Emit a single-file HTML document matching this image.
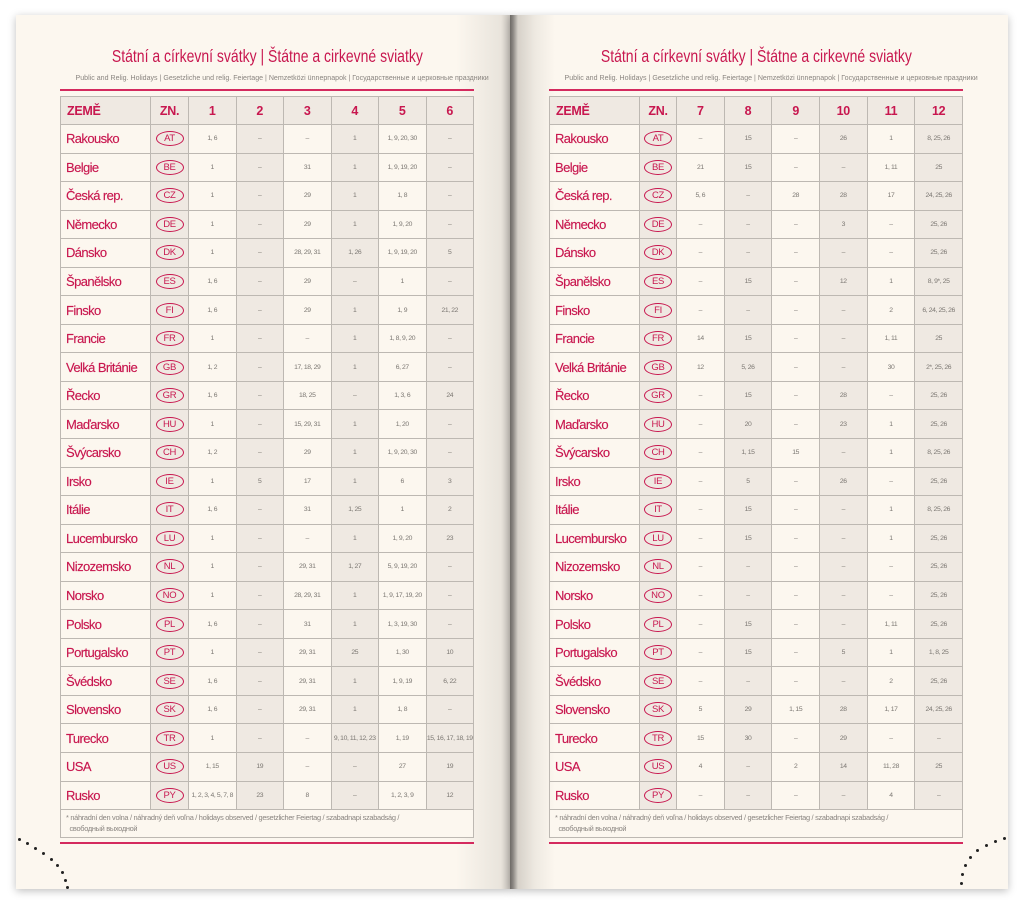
<!DOCTYPE html>
<html><head><meta charset="utf-8">
<style>
*{margin:0;padding:0;box-sizing:border-box}
body{width:1024px;height:905px;background:#fff;position:relative;overflow:hidden;font-family:"Liberation Sans",sans-serif}
.page{position:absolute;top:15px;height:874px;background:#fcf7ef;box-shadow:0 2px 8px rgba(0,0,0,.25)}
#pl{left:16px;width:494px;background:linear-gradient(to right,#fcf7ef 0,#fcf7ef 440px,#e9e4dc 485px,#c9c4bd 494px)}
#pr{left:510px;width:498px;background:linear-gradient(to right,#6d6a66 0,#8a8782 3px,#d6d1c9 8px,#eee9e1 25px,#fcf7ef 45px)}
.title{position:absolute;width:414px;text-align:center;color:#c8174f;font-size:17.5px;top:46px;white-space:nowrap}
.title span{display:inline-block;transform:scaleX(0.8)}
.sub{position:absolute;width:414px;text-align:center;color:#8a8580;font-size:7.6px;top:73px;white-space:nowrap}
.sub span{display:inline-block;transform:scaleX(0.93)}
.rl{position:absolute;height:2px;background:#d42a5e;width:414px}
table{position:absolute;top:96px;border-collapse:collapse;table-layout:fixed;width:414px}
td{border:1px solid #bdb8b2;text-align:center;vertical-align:middle;color:#7b7772;font-size:6.8px;letter-spacing:-0.4px;height:28.55px;padding:0;white-space:nowrap;overflow:hidden}
tr.h td{height:28px;background:#efe9e2;color:#c8174f;font-size:12.5px;font-weight:bold;letter-spacing:-0.3px}
tr.h td:first-child{text-align:left;padding-left:6px}
td.n{color:#c8174f;font-size:13px;letter-spacing:-0.6px;text-align:left;padding-left:5px;-webkit-text-stroke:0.15px #c8174f}
td.c span{display:inline-block;border:1.3px solid #c8174f;border-radius:50%;color:#c8174f;font-size:9.5px;letter-spacing:-0.3px;width:28px;height:15px;line-height:13px}
td:nth-child(2),td:nth-child(4),td:nth-child(6),td:nth-child(8){background:#efe9e2}
td.f{text-align:left;font-size:7.4px;letter-spacing:-0.3px;color:#8a8580;height:28px;white-space:normal;padding:2px 5px;line-height:11px;background:#fcf7ef!important;vertical-align:top}
.dot{position:absolute;width:3px;height:3px;border-radius:50%;background:#222}
</style></head><body>
<div class="page" id="pl"></div>
<div class="page" id="pr"></div>

<div class="title" style="left:60px"><span>Státní a církevní svátky | Štátne a cirkevné sviatky</span></div>
<div class="sub" style="left:60px"><span>Public and Relig. Holidays | Gesetzliche und relig. Feiertage | Nemzetközi ünnepnapok | Государственные и церковные праздники</span></div>
<div class="rl" style="left:60px;top:89px"></div>
<div class="rl" style="left:60px;top:842px"></div>

<div class="title" style="left:549px"><span>Státní a církevní svátky | Štátne a cirkevné sviatky</span></div>
<div class="sub" style="left:549px"><span>Public and Relig. Holidays | Gesetzliche und relig. Feiertage | Nemzetközi ünnepnapok | Государственные и церковные праздники</span></div>
<div class="rl" style="left:549px;top:89px"></div>
<div class="rl" style="left:549px;top:842px"></div>

<table style="left:60px">
<colgroup><col style="width:90px"><col style="width:38px"><col><col><col><col><col><col></colgroup>
<tr class="h"><td>ZEMĚ</td><td>ZN.</td><td>1</td><td>2</td><td>3</td><td>4</td><td>5</td><td>6</td></tr>
<tr><td class="n">Rakousko</td><td class="c"><span>AT</span></td><td>1, 6</td><td>–</td><td>–</td><td>1</td><td>1, 9, 20, 30</td><td>–</td></tr>
<tr><td class="n">Belgie</td><td class="c"><span>BE</span></td><td>1</td><td>–</td><td>31</td><td>1</td><td>1, 9, 19, 20</td><td>–</td></tr>
<tr><td class="n">Česká rep.</td><td class="c"><span>CZ</span></td><td>1</td><td>–</td><td>29</td><td>1</td><td>1, 8</td><td>–</td></tr>
<tr><td class="n">Německo</td><td class="c"><span>DE</span></td><td>1</td><td>–</td><td>29</td><td>1</td><td>1, 9, 20</td><td>–</td></tr>
<tr><td class="n">Dánsko</td><td class="c"><span>DK</span></td><td>1</td><td>–</td><td>28, 29, 31</td><td>1, 26</td><td>1, 9, 19, 20</td><td>5</td></tr>
<tr><td class="n">Španělsko</td><td class="c"><span>ES</span></td><td>1, 6</td><td>–</td><td>29</td><td>–</td><td>1</td><td>–</td></tr>
<tr><td class="n">Finsko</td><td class="c"><span>FI</span></td><td>1, 6</td><td>–</td><td>29</td><td>1</td><td>1, 9</td><td>21, 22</td></tr>
<tr><td class="n">Francie</td><td class="c"><span>FR</span></td><td>1</td><td>–</td><td>–</td><td>1</td><td>1, 8, 9, 20</td><td>–</td></tr>
<tr><td class="n">Velká Británie</td><td class="c"><span>GB</span></td><td>1, 2</td><td>–</td><td>17, 18, 29</td><td>1</td><td>6, 27</td><td>–</td></tr>
<tr><td class="n">Řecko</td><td class="c"><span>GR</span></td><td>1, 6</td><td>–</td><td>18, 25</td><td>–</td><td>1, 3, 6</td><td>24</td></tr>
<tr><td class="n">Maďarsko</td><td class="c"><span>HU</span></td><td>1</td><td>–</td><td>15, 29, 31</td><td>1</td><td>1, 20</td><td>–</td></tr>
<tr><td class="n">Švýcarsko</td><td class="c"><span>CH</span></td><td>1, 2</td><td>–</td><td>29</td><td>1</td><td>1, 9, 20, 30</td><td>–</td></tr>
<tr><td class="n">Irsko</td><td class="c"><span>IE</span></td><td>1</td><td>5</td><td>17</td><td>1</td><td>6</td><td>3</td></tr>
<tr><td class="n">Itálie</td><td class="c"><span>IT</span></td><td>1, 6</td><td>–</td><td>31</td><td>1, 25</td><td>1</td><td>2</td></tr>
<tr><td class="n">Lucembursko</td><td class="c"><span>LU</span></td><td>1</td><td>–</td><td>–</td><td>1</td><td>1, 9, 20</td><td>23</td></tr>
<tr><td class="n">Nizozemsko</td><td class="c"><span>NL</span></td><td>1</td><td>–</td><td>29, 31</td><td>1, 27</td><td>5, 9, 19, 20</td><td>–</td></tr>
<tr><td class="n">Norsko</td><td class="c"><span>NO</span></td><td>1</td><td>–</td><td>28, 29, 31</td><td>1</td><td>1, 9, 17, 19, 20</td><td>–</td></tr>
<tr><td class="n">Polsko</td><td class="c"><span>PL</span></td><td>1, 6</td><td>–</td><td>31</td><td>1</td><td>1, 3, 19, 30</td><td>–</td></tr>
<tr><td class="n">Portugalsko</td><td class="c"><span>PT</span></td><td>1</td><td>–</td><td>29, 31</td><td>25</td><td>1, 30</td><td>10</td></tr>
<tr><td class="n">Švédsko</td><td class="c"><span>SE</span></td><td>1, 6</td><td>–</td><td>29, 31</td><td>1</td><td>1, 9, 19</td><td>6, 22</td></tr>
<tr><td class="n">Slovensko</td><td class="c"><span>SK</span></td><td>1, 6</td><td>–</td><td>29, 31</td><td>1</td><td>1, 8</td><td>–</td></tr>
<tr><td class="n">Turecko</td><td class="c"><span>TR</span></td><td>1</td><td>–</td><td>–</td><td>9, 10, 11, 12, 23</td><td>1, 19</td><td>15, 16, 17, 18, 19</td></tr>
<tr><td class="n">USA</td><td class="c"><span>US</span></td><td>1, 15</td><td>19</td><td>–</td><td>–</td><td>27</td><td>19</td></tr>
<tr><td class="n">Rusko</td><td class="c"><span>PY</span></td><td>1, 2, 3, 4, 5, 7, 8</td><td>23</td><td>8</td><td>–</td><td>1, 2, 3, 9</td><td>12</td></tr>
<tr><td class="f" colspan="8">* náhradní den volna / náhradný deň voľna / holidays observed / gesetzlicher Feiertag / szabadnapi szabadság /<br>&nbsp;&nbsp;свободный выходной</td></tr>
</table>

<table style="left:549px">
<colgroup><col style="width:90px"><col style="width:37px"><col><col><col><col><col><col></colgroup>
<tr class="h"><td>ZEMĚ</td><td>ZN.</td><td>7</td><td>8</td><td>9</td><td>10</td><td>11</td><td>12</td></tr>
<tr><td class="n">Rakousko</td><td class="c"><span>AT</span></td><td>–</td><td>15</td><td>–</td><td>26</td><td>1</td><td>8, 25, 26</td></tr>
<tr><td class="n">Belgie</td><td class="c"><span>BE</span></td><td>21</td><td>15</td><td>–</td><td>–</td><td>1, 11</td><td>25</td></tr>
<tr><td class="n">Česká rep.</td><td class="c"><span>CZ</span></td><td>5, 6</td><td>–</td><td>28</td><td>28</td><td>17</td><td>24, 25, 26</td></tr>
<tr><td class="n">Německo</td><td class="c"><span>DE</span></td><td>–</td><td>–</td><td>–</td><td>3</td><td>–</td><td>25, 26</td></tr>
<tr><td class="n">Dánsko</td><td class="c"><span>DK</span></td><td>–</td><td>–</td><td>–</td><td>–</td><td>–</td><td>25, 26</td></tr>
<tr><td class="n">Španělsko</td><td class="c"><span>ES</span></td><td>–</td><td>15</td><td>–</td><td>12</td><td>1</td><td>8, 9*, 25</td></tr>
<tr><td class="n">Finsko</td><td class="c"><span>FI</span></td><td>–</td><td>–</td><td>–</td><td>–</td><td>2</td><td>6, 24, 25, 26</td></tr>
<tr><td class="n">Francie</td><td class="c"><span>FR</span></td><td>14</td><td>15</td><td>–</td><td>–</td><td>1, 11</td><td>25</td></tr>
<tr><td class="n">Velká Británie</td><td class="c"><span>GB</span></td><td>12</td><td>5, 26</td><td>–</td><td>–</td><td>30</td><td>2*, 25, 26</td></tr>
<tr><td class="n">Řecko</td><td class="c"><span>GR</span></td><td>–</td><td>15</td><td>–</td><td>28</td><td>–</td><td>25, 26</td></tr>
<tr><td class="n">Maďarsko</td><td class="c"><span>HU</span></td><td>–</td><td>20</td><td>–</td><td>23</td><td>1</td><td>25, 26</td></tr>
<tr><td class="n">Švýcarsko</td><td class="c"><span>CH</span></td><td>–</td><td>1, 15</td><td>15</td><td>–</td><td>1</td><td>8, 25, 26</td></tr>
<tr><td class="n">Irsko</td><td class="c"><span>IE</span></td><td>–</td><td>5</td><td>–</td><td>26</td><td>–</td><td>25, 26</td></tr>
<tr><td class="n">Itálie</td><td class="c"><span>IT</span></td><td>–</td><td>15</td><td>–</td><td>–</td><td>1</td><td>8, 25, 26</td></tr>
<tr><td class="n">Lucembursko</td><td class="c"><span>LU</span></td><td>–</td><td>15</td><td>–</td><td>–</td><td>1</td><td>25, 26</td></tr>
<tr><td class="n">Nizozemsko</td><td class="c"><span>NL</span></td><td>–</td><td>–</td><td>–</td><td>–</td><td>–</td><td>25, 26</td></tr>
<tr><td class="n">Norsko</td><td class="c"><span>NO</span></td><td>–</td><td>–</td><td>–</td><td>–</td><td>–</td><td>25, 26</td></tr>
<tr><td class="n">Polsko</td><td class="c"><span>PL</span></td><td>–</td><td>15</td><td>–</td><td>–</td><td>1, 11</td><td>25, 26</td></tr>
<tr><td class="n">Portugalsko</td><td class="c"><span>PT</span></td><td>–</td><td>15</td><td>–</td><td>5</td><td>1</td><td>1, 8, 25</td></tr>
<tr><td class="n">Švédsko</td><td class="c"><span>SE</span></td><td>–</td><td>–</td><td>–</td><td>–</td><td>2</td><td>25, 26</td></tr>
<tr><td class="n">Slovensko</td><td class="c"><span>SK</span></td><td>5</td><td>29</td><td>1, 15</td><td>28</td><td>1, 17</td><td>24, 25, 26</td></tr>
<tr><td class="n">Turecko</td><td class="c"><span>TR</span></td><td>15</td><td>30</td><td>–</td><td>29</td><td>–</td><td>–</td></tr>
<tr><td class="n">USA</td><td class="c"><span>US</span></td><td>4</td><td>–</td><td>2</td><td>14</td><td>11, 28</td><td>25</td></tr>
<tr><td class="n">Rusko</td><td class="c"><span>PY</span></td><td>–</td><td>–</td><td>–</td><td>–</td><td>4</td><td>–</td></tr>
<tr><td class="f" colspan="8">* náhradní den volna / náhradný deň voľna / holidays observed / gesetzlicher Feiertag / szabadnapi szabadság /<br>&nbsp;&nbsp;свободный выходной</td></tr>
</table>

<div class="dot" style="left:18px;top:838px"></div>
<div class="dot" style="left:26px;top:842px"></div>
<div class="dot" style="left:34px;top:847px"></div>
<div class="dot" style="left:42px;top:852px"></div>
<div class="dot" style="left:50px;top:858px"></div>
<div class="dot" style="left:56px;top:864px"></div>
<div class="dot" style="left:61px;top:871px"></div>
<div class="dot" style="left:64px;top:879px"></div>
<div class="dot" style="left:66px;top:886px"></div>

<div class="dot" style="left:1003px;top:837px"></div>
<div class="dot" style="left:994px;top:840px"></div>
<div class="dot" style="left:985px;top:844px"></div>
<div class="dot" style="left:976px;top:849px"></div>
<div class="dot" style="left:969px;top:856px"></div>
<div class="dot" style="left:964px;top:864px"></div>
<div class="dot" style="left:961px;top:873px"></div>
<div class="dot" style="left:960px;top:882px"></div>
</body></html>
